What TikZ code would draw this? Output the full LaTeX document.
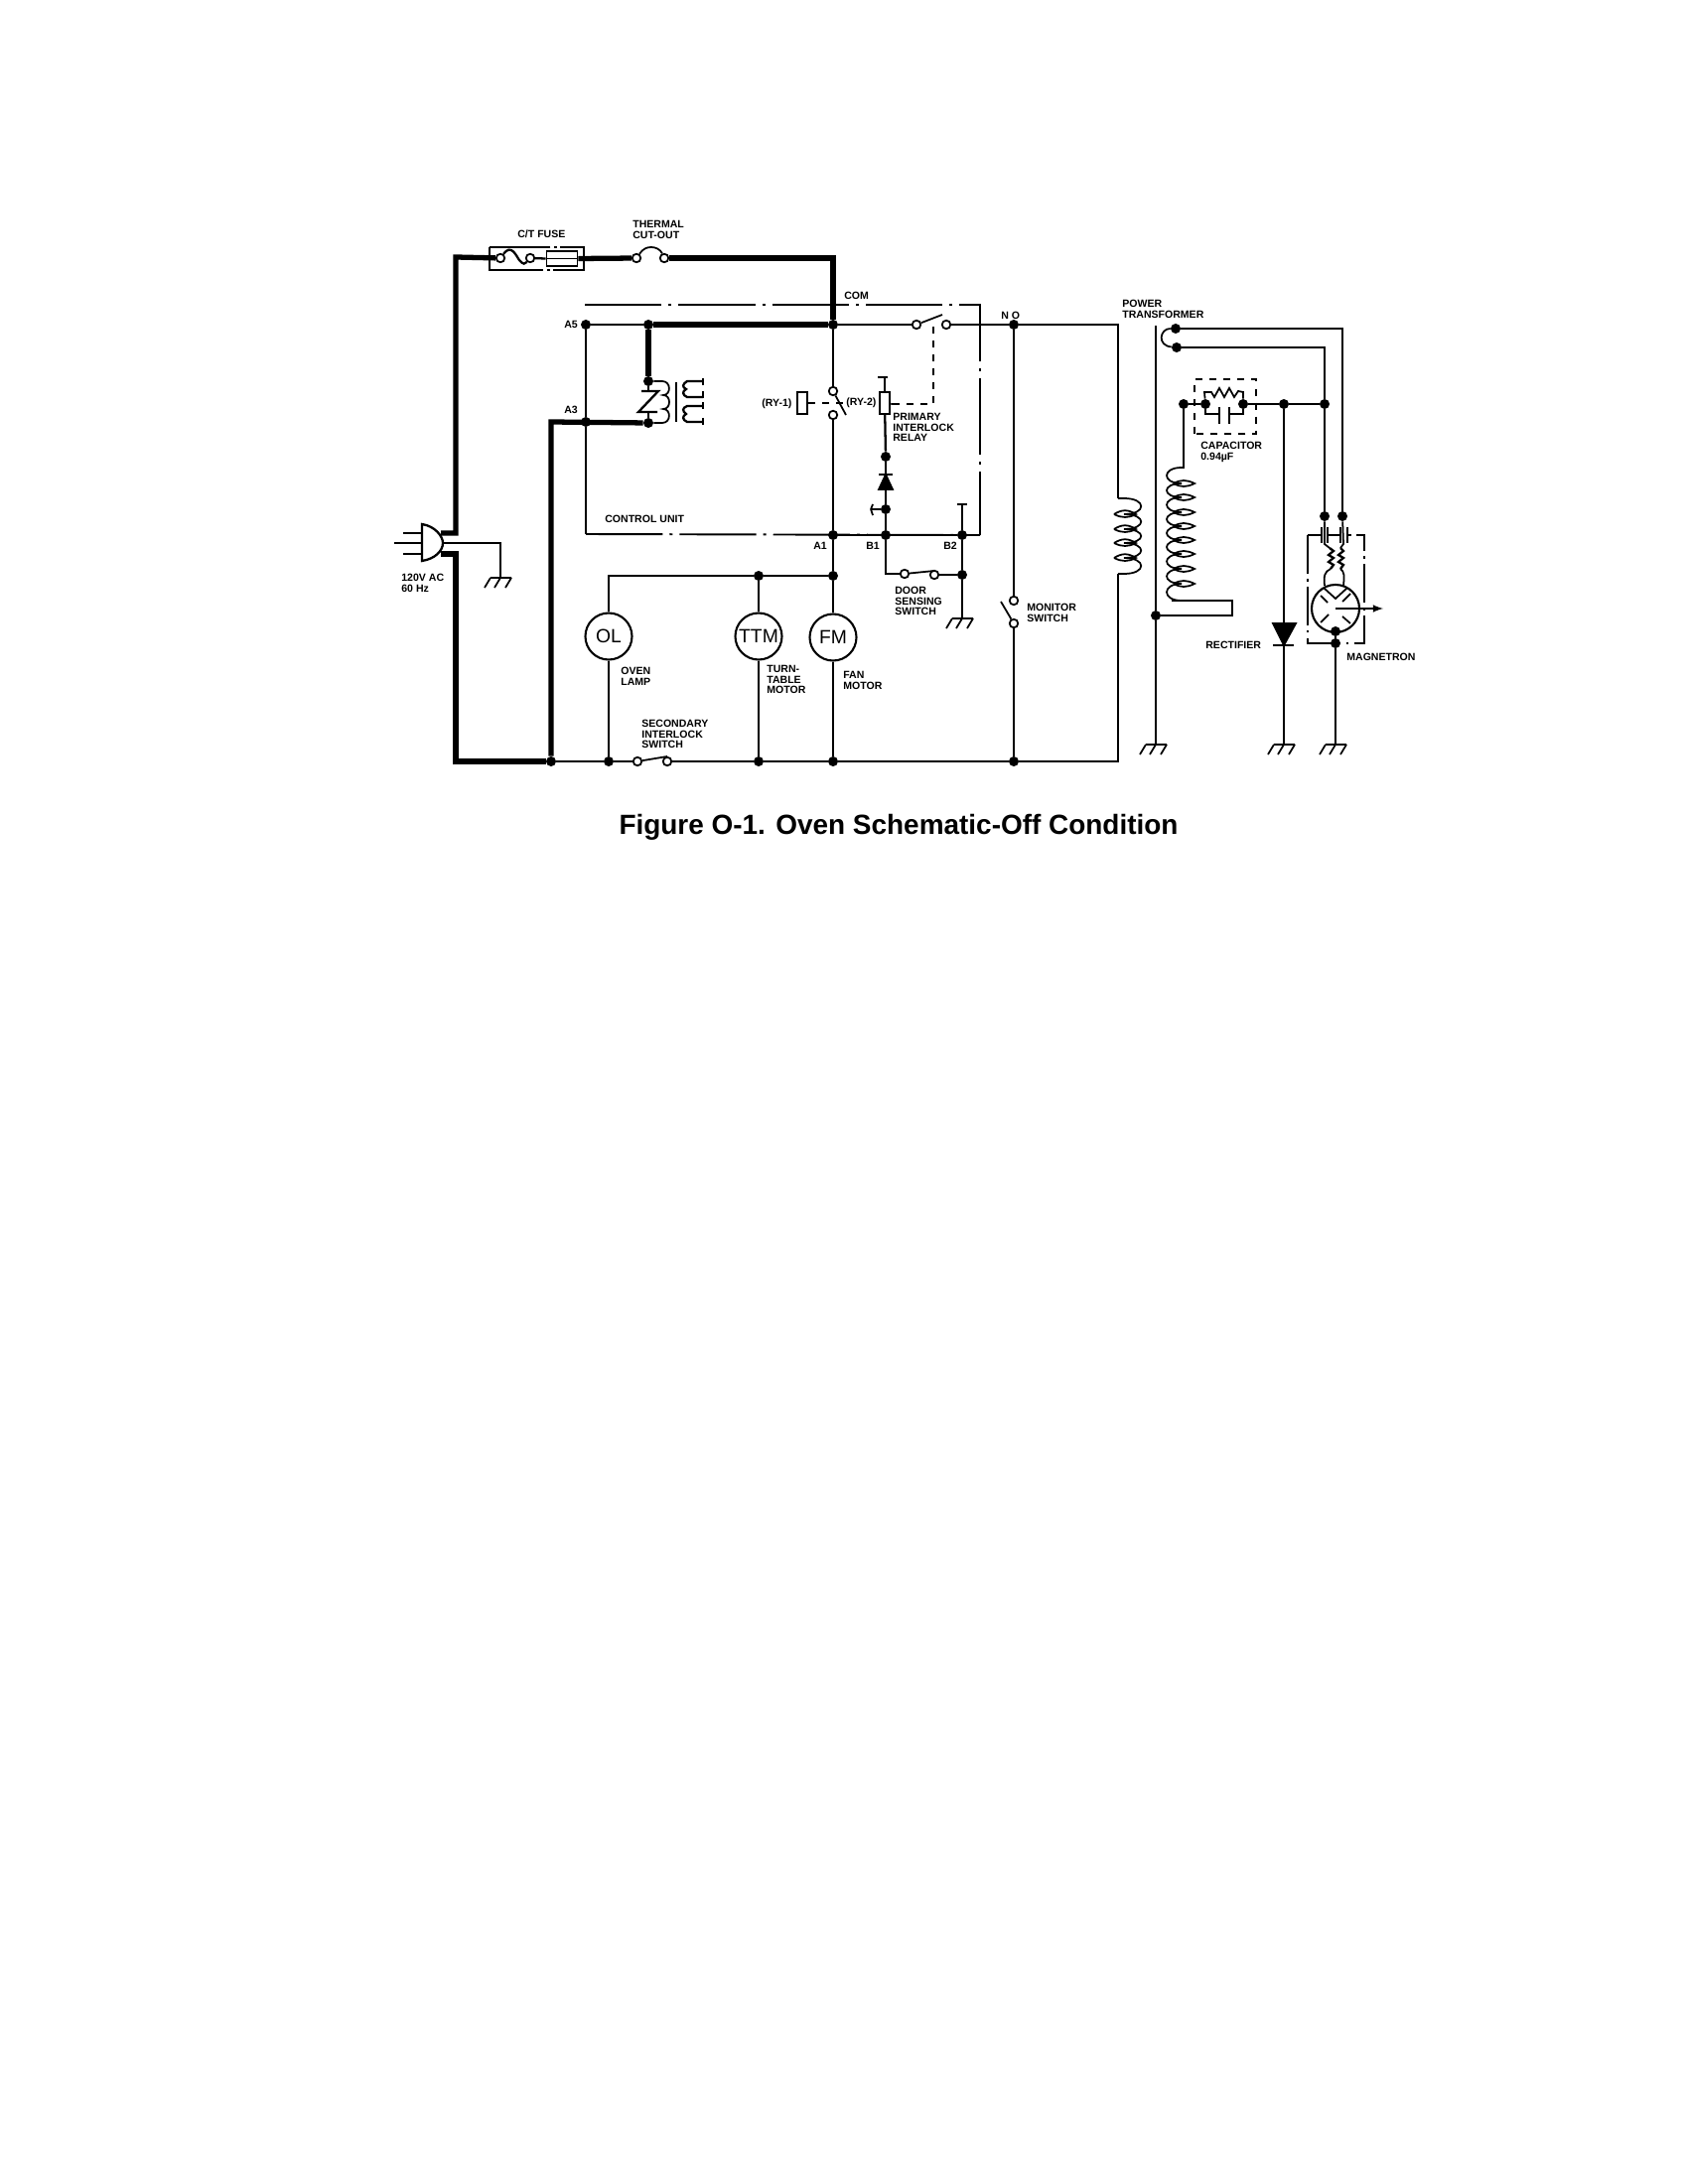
\documentclass[tikz,border=0pt]{standalone}
\usepackage{fontspec}
\setmainfont{Liberation Sans}
\usetikzlibrary{positioning}

\tikzset{
wire/.style={black, line width=1pt},
heavy/.style={black, line width=3pt},
mid/.style={black, line width=1.3pt},
ctrl/.style={black, line width=1.1pt, dash pattern=on 44pt off 4pt on 1.7pt off 4pt},
link/.style={black, line width=1pt, dash pattern=on 4pt off 4pt},
dot/.style={circle, fill=black, inner sep=0, minimum size=2mm},
term/.style={circle, draw=black, fill=white, line width=1pt, inner sep=0, minimum size=1.7mm},
load/.style={circle, draw=black, line width=1.2pt, inner sep=0, minimum size=9.4mm, font=\fontsize{11}{11}\selectfont},
coilbox/.style={rectangle, draw=black, fill=white, line width=1.1pt, inner sep=0, minimum width=2.1mm, minimum height=4.5mm},
lbl/.style={inner sep=0, anchor=north west, align=left, font=\bfseries\fontsize{6}{6}\selectfont}
}

\begin{document}
\begin{tikzpicture}[x=0.2mm,y=-0.2mm]

\useasboundingbox (0,0) rectangle (1696,2200);

% control unit outline
\draw[ctrl] (589,307)--(987,307)--(987,539);
\draw[ctrl] (590,538)--(987,539);

% junctions
\node[dot] (a5) at (590,327) {};
\node[dot] (a3) at (590,425) {};
\node[dot] (j1) at (653,327) {};
\node[dot] (k1) at (653,384) {};
\node[dot] (k2) at (653,426) {};
\node[dot] (com) at (839,327) {};
\node[dot] (no) at (1021,327) {};
\node[dot] (a1) at (839,539) {};
\node[dot] (b1) at (892,539) {};
\node[dot] (b2) at (969,539) {};
\node[dot] (d1) at (892,460) {};
\node[dot] (d2) at (892,513) {};
\node[dot] (dsw) at (969,579) {};
\node[dot] (top1) at (764,580) {};
\node[dot] (top2) at (839,580) {};
\node[dot] (bot0) at (555,767) {};
\node[dot] (bot1) at (613,767) {};
\node[dot] (bot2) at (764,767) {};
\node[dot] (bot3) at (839,767) {};
\node[dot] (bot4) at (1021,767) {};
\node[dot] (core) at (1164,620) {};
\node[dot] (h1) at (1184,331) {};
\node[dot] (h2) at (1185,350) {};
\node[dot] (s1) at (1192,407) {};
\node[dot] (c1) at (1214,407) {};
\node[dot] (c2) at (1252,407) {};
\node[dot] (r1) at (1293,407) {};
\node[dot] (h3) at (1334,407) {};
\node[dot] (m1) at (1334,520) {};
\node[dot] (m2) at (1352,520) {};
\node[dot] (m3) at (1345,636) {};
\node[dot] (m4) at (1345,648) {};

% open terminals
\node[term] (fu1) at (504,260) {};
\node[term] (fu2) at (534,260) {};
\node[term] (tco1) at (641,260) {};
\node[term] (tco2) at (669,260) {};
\node[term] (ry2a) at (923,327) {};
\node[term] (ry2b) at (953,327) {};
\node[term] (ry1a) at (839,394) {};
\node[term] (ry1b) at (839,418) {};
\node[term] (sec1) at (642,767) {};
\node[term] (sec2) at (672,767) {};
\node[term] (door1) at (911,578) {};
\node[term] (door2) at (941,579) {};
\node[term] (mon1) at (1021,605) {};
\node[term] (mon2) at (1021,628) {};

% boxes and loads
\node[rectangle, draw=black, line width=1.1pt, inner sep=0, minimum width=6.2mm, minimum height=3mm] (fuse) at (566,260.5) {};
\node[coilbox] (ry1) at (808,406) {};
\node[coilbox] (ry2) at (891,406) {};
\node[load] (ol) at (613,641) {OL};
\node[load] (ttm) at (764,641) {TTM};
\node[load] (fm) at (839,642) {FM};
\node[circle, draw=black, line width=1.2pt, inner sep=0, minimum size=9.6mm] (mag) at (1345,613) {};

% free ends
\coordinate (pltop) at (444,537);
\coordinate (plmid) at (445,547);
\coordinate (plbot) at (444,558);
\coordinate (cnr1) at (459,259);
\coordinate (cnr2) at (459,767);
\coordinate (cnr3) at (555,425);
\coordinate (cnr4) at (504,547);
\coordinate (cnr5) at (613,580);
\coordinate (cnr6) at (892,578);
\coordinate (cnr7) at (1126,327);
\coordinate (cnr8) at (1126,767);
\coordinate (cnr9) at (1241,605);
\coordinate (cnr10) at (1241,620);
\coordinate (cnr11) at (1180,605);
\coordinate (cnr12) at (1352,331);
\coordinate (cnr13) at (1334,350);
\coordinate (cp1) at (1126,502);
\coordinate (cp2) at (1126,578);
\coordinate (cs1) at (1192,471);
\coordinate (g1) at (504,582);
\coordinate (g2) at (969,623);
\coordinate (g3) at (1164,750);
\coordinate (g4) at (1293,750);
\coordinate (g5) at (1345,750);
\coordinate (st1) at (891,380);
\coordinate (st2) at (969,508);
\coordinate (st3) at (877,513);
\coordinate (lk1) at (940,325);
\coordinate (lk2) at (940,407);
\coordinate (lk3) at (899,407);
\coordinate (lk4) at (852,406);
\coordinate (dtop) at (1293,628);
\coordinate (dbar) at (1293,650);
\coordinate (dtop2) at (892,493);
\coordinate (dbar2) at (892,478);

% heavy wires
\draw[heavy] (pltop)-|(cnr1)--(fu1);
\draw[heavy] (fuse.east)--(tco1);
\draw[heavy] (tco2)-|(com);
\draw[heavy] (j1)--(com);
\draw[heavy] (j1)--(k1);
\draw[heavy] (k2)--(cnr3)--(bot0);
\draw[heavy] (plbot)-|(cnr2)--(bot0);
\draw[mid] (fu2)--(fuse.west);

% thin wires
\draw[wire] (a5)--(j1);
\draw[wire] (a5)--(a3);
\draw[wire] (a3)--(590,538);
\draw[wire] (com)--(ry2a);
\draw[wire] (ry2b)--(no);
\draw[wire] (no)--(cnr7)--(cp1);
\draw[wire] (cp2)--(cnr8)--(bot4);
\draw[wire] (com)--(ry1a);
\draw[wire] (ry1b)--(a1);
\draw[mid] (a1)--(top2);
\draw[wire] (top2)--(fm);
\draw[wire] (fm)--(bot3);
\draw[wire] (top2)--(top1)--(cnr5)--(ol);
\draw[wire] (top1)--(ttm);
\draw[wire] (ttm)--(bot2);
\draw[wire] (ol)--(bot1);
\draw[wire] (bot0)--(bot1)--(sec1);
\draw[wire] (sec2)--(bot2)--(bot3)--(bot4);
\draw[wire] (a1)--(b1)--(b2);
\draw[wire] (b1)--(cnr6)--(door1);
\draw[wire] (door2)--(dsw);
\draw[wire] (b2)--(dsw);
\draw[mid] (dsw)--(g2);
\draw[wire] (b2)--(st2);
\draw[wire] (st1)--(ry2);
\draw[mid] (ry2)--(d1);
\draw[mid] (d1)--(dbar2);
\draw[mid] (dtop2)--(d2);
\draw[mid] (d2)--(b1);
\draw[wire] (d2)--(st3);
\draw[wire] (no)--(mon1);
\draw[mid] (mon2)--(bot4);
\draw[wire] (plmid)-|(g1);

% switch arms
\draw[wire] (ry2a)--(949,317);
\draw[wire] (ry1a)--(852,418);
\draw[wire] (sec1)--(672,762);
\draw[wire] (door1)--(941,575);
\draw[wire] (mon2)--(1008,606);

% stubs
\draw[mid] (884,380)--(894,380);
\draw[mid] (964,508)--(974,508);
\draw[wire] (st3)--++(2,6);
\draw[wire] (st3)--++(2,-5);

% relay links
\draw[link] (ry1)--(lk4);
\draw[link] (ry2)--(lk3);
\draw[link] (lk3)--(lk2)--(lk1);

% fuse and cut-out
\draw[mid] (fu1) .. controls (515,245) and (520,258) .. (523,262) .. controls (527,267) and (529,266) .. (fu2);
\draw[wire] (fuse.west)--(fuse.east);
\draw[wire] (tco1) .. controls (648,250) and (652,249) .. (656,249) .. controls (660,249) and (665,251) .. (tco2);
\draw[wire, dash pattern=on 44pt off 2pt on 1.7pt off 2pt] (493,249) rectangle (588,272);

% plug
\draw[mid] (425,528) .. controls (438,530) and (446,540) .. (446,547) .. controls (446,555) and (438,563) .. (425,565)--cycle;
\draw[wire] (406,537)--(425,537);
\draw[wire] (397,547)--(425,547);
\draw[wire] (406,558)--(425,558);

% relay k coil
\draw[mid] (k1)--(653,394);
\draw[mid] (k2)--(653,414);
\draw[mid] (646,394)--(663,394)--(643,415)--(662,415);
\draw[wire] (k1)--(667,384) .. controls (676,384) and (676,398) .. (668,398) .. controls (676,398) and (676,412) .. (668,412) .. controls (676,412) and (676,426) .. (667,426)--(k2);
\draw[mid] (681,385)--(681,425);
\draw[mid] (708,384)--(692,384) .. controls (687,387) and (687,390) .. (691,392) .. controls (687,394) and (687,398) .. (692,400)--(708,400);
\draw[mid] (708,409)--(692,409) .. controls (687,411) and (687,414) .. (691,417) .. controls (687,419) and (687,423) .. (692,425)--(708,425);
\foreach \y in {381,394,405,421}
{
\draw[mid] (708,\y)--(708,\y+7);
}

% diodes
\draw[wire, fill=black] (885,493)--(899,493)--(892,478)--cycle;
\draw[mid] (885,478)--(899,478);
\draw[wire, fill=black] (1282,628)--(1305,628)--(1293,650)--cycle;
\draw[mid] (1282,650)--(1303,650);

% transformer
\draw[line width=1.3pt] (1164,328)--(core);
\draw[wire] (core)--(g3);
\draw[wire] (cp1)--(1132,502);
\draw[wire] (cp2)--(1132,578);
\foreach \a/\b in {502/518,518/533,533/547,547/562,562/578}
{
\draw[wire] (1132,\a) .. controls (1155,\a) and (1155,\b) .. (1132,\b);
}
\foreach \y in {518,533,547,562}
{
\draw[wire] (1122,\y) .. controls (1130,\y-5) and (1136,\y-5) .. (1144,\y) .. controls (1136,\y+4) and (1130,\y+4) .. (1122,\y);
}
\draw[wire] (s1)--(cs1)--(1190,471);
\foreach \a/\b in {471/487,487/501,501/516,516/530,530/544,544/558,558/573,573/588,588/605}
{
\draw[wire] (1190,\a) .. controls (1170,\a) and (1170,\b) .. (1190,\b);
}
\foreach \y in {487,501,516,530,544,558,573,588}
{
\draw[wire] (1182,\y) .. controls (1189,\y-4) and (1195,\y-4) .. (1203,\y) .. controls (1195,\y+4) and (1189,\y+4) .. (1182,\y);
}
\draw[wire] (1190,605)--(cnr11)--(cnr9)--(cnr10)--(core);
\draw[wire] (h1) .. controls (1168,331) and (1165,348) .. (h2);
\draw[wire] (h1)--(cnr12)--(m2);
\draw[wire] (h2)--(cnr13)--(h3);
\draw[wire] (h3)--(m1);

% capacitor
\draw[wire] (s1)--(c1);
\draw[wire] (c2)--(r1)--(h3);
\draw[wire] (r1)--(dtop);
\draw[wire] (dbar)--(g4);
\draw[wire] (c1)--(1213,395)--(1220,395)--(1223,400)--(1228,391)--(1233,400)--(1238,391)--(1243,400)--(1247,394)--(1252,395)--(c2);
\draw[wire] (c1)--(1214,417)--(1228,417);
\draw[wire] (c2)--(1252,417)--(1238,417);
\draw[mid] (1228,410)--(1228,427);
\draw[mid] (1238,410)--(1238,427);
\draw[link] (1203,437)--(1203,382)--(1265,382)--(1265,437)--(1203,437);

% magnetron
\draw[link, dash pattern=on 22pt off 3pt on 1.5pt off 3pt] (1317,539)--(1317,648)--(1374,648)--(1374,539)--(1366,539);
\draw[wire] (1317,539)--(1331,539);
\draw[mid] (1331,531)--(1331,547);
\draw[mid] (1337,531)--(1337,547);
\draw[wire] (1337,539)--(1350,539);
\draw[mid] (1350,531)--(1350,547);
\draw[mid] (1357,531)--(1357,547);
\draw[wire] (1357,539)--(1361,539);
\draw[wire] (m1)--(1334,548)--(1339,552);
\draw[wire] (m2)--(1353,548)--(1350,552);
\draw[line width=1.3pt] (1339,552)--(1343,555)--(1338,559)--(1343,562)--(1338,566)--(1343,569)--(1340,573);
\draw[line width=1.3pt] (1350,552)--(1353,555)--(1348,559)--(1353,562)--(1348,566)--(1353,569)--(1350,573);
\draw[wire] (1340,573) .. controls (1334,576) and (1333,580) .. (1334,590);
\draw[wire] (1350,573) .. controls (1354,576) and (1354,580) .. (1353,590);
\draw[wire] (1333,592)--(1345,603)--(1357,592);
\draw[wire] (1330,600)--(1337,607);
\draw[wire] (1360,598)--(1352,606);
\draw[wire] (1330,627)--(1338,619);
\draw[wire] (1360,628)--(1352,621);
\draw[wire, -latex] (mag.center)--(1393,613);
\draw[mid] (m3)--(m4);
\draw[wire] (m4)--(g5);

% grounds
\foreach \g in {g1,g2,g3,g4,g5}
{
\draw[wire, shift={(\g)}] (-10,0)--(11,0) (-10,0)--(-16,10) (0,0)--(-6,10) (11,0)--(5,10);
}

% labels
\node[lbl] (lfuse) at (521,232) {C/T FUSE};
\node[lbl] (ltco) at (637,222) {THERMAL\\CUT-OUT};
\node[lbl] (lcom) at (850,294) {COM};
\node[lbl] (lno) at (1008,314) {N O};
\node[lbl] (lpt) at (1130,302) {POWER\\TRANSFORMER};
\node[lbl] (la5) at (568,323) {A5};
\node[lbl] (la3) at (568,409) {A3};
\node[lbl] (lry1) at (767,402) {(RY-1)};
\node[lbl] (lry2) at (852,401) {(RY-2)};
\node[lbl] (lpir) at (899,416) {PRIMARY\\INTERLOCK\\RELAY};
\node[lbl] (lcu) at (609,519) {CONTROL UNIT};
\node[lbl] (la1) at (819,546) {A1};
\node[lbl] (lb1) at (872,546) {B1};
\node[lbl] (lb2) at (950,546) {B2};
\node[lbl] (lac) at (404,578) {120V AC\\60 Hz};
\node[lbl] (lol) at (625,672) {OVEN\\LAMP};
\node[lbl] (lttm) at (772,670) {TURN-\\TABLE\\MOTOR};
\node[lbl] (lfm) at (849,676) {FAN\\MOTOR};
\node[lbl] (lsis) at (646,725) {SECONDARY\\INTERLOCK\\SWITCH};
\node[lbl] (ldss) at (901,591) {DOOR\\SENSING\\SWITCH};
\node[lbl] (lmon) at (1034,608) {MONITOR\\SWITCH};
\node[lbl] (lcap) at (1209,445) {CAPACITOR\\0.94µF};
\node[lbl] (lrec) at (1214,646) {RECTIFIER};
\node[lbl] (lmag) at (1356,658) {MAGNETRON};

\node (title) at (905,833) [font=\bfseries\fontsize{15.9}{15.9}\selectfont, inner sep=0] {Figure O-1. Oven Schematic-Off Condition};

\end{tikzpicture}
\end{document}
